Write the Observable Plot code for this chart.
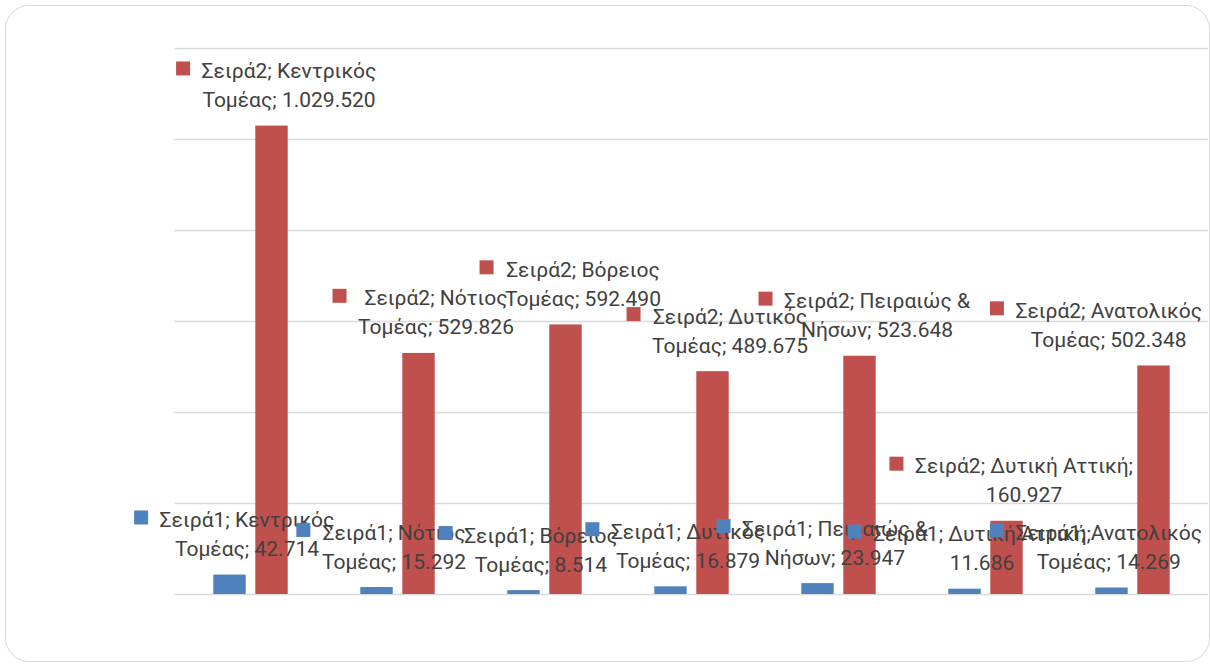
<!DOCTYPE html>
<html><head><meta charset="utf-8">
<script src="https://cdn.jsdelivr.net/npm/d3@7"></script>
<script src="https://cdn.jsdelivr.net/npm/@observablehq/plot@0.6"></script>
<style>
html,body{margin:0;padding:0;background:#fff;overflow:hidden}
#wrap{position:relative;width:1210px;height:667px}
#border{position:absolute;left:5px;top:4.5px;width:1204.5px;height:657px;border:1.5px solid #D9D9D9;border-radius:24px;pointer-events:none;box-sizing:border-box}
</style></head><body><div id="wrap"><div id="border"></div></div>
<script>
const categories = ["Κεντρικός Τομέας", "Νότιος Τομέας", "Βόρειος Τομέας", "Δυτικός Τομέας", "Πειραιώς & Νήσων", "Δυτική Αττική", "Ανατολικός Τομέας"];
const seriesNames = ["Σειρά1", "Σειρά2"];
const values1 = [42714, 15292, 8514, 16879, 23947, 11686, 14269];
const values2 = [1029520, 529826, 592490, 489675, 523648, 160927, 502348];
const line1Words = [2, 2, 2, 2, 3, 3, 2];
const yTicks = [0, 200000, 400000, 600000, 800000, 1000000, 1200000];
const colors = ["#4F81BD", "#C0504D"];

const fmt = d3.formatLocale({decimal: ",", thousands: ".", grouping: [3], currency: ["", "€"]}).format(",d");
const fs = 21, lh = 29;

function makeData(vals, s) {
  return categories.map((c, i) => {
    const words = `${s}; ${c}; ${fmt(vals[i])}`.split(" ");
    const k = line1Words[i];
    return {cat: c, value: vals[i], label: words.slice(0, k).join(" ") + "\n" + words.slice(k).join(" ")};
  });
}
const data1 = makeData(values1, seriesNames[0]);
const data2 = makeData(values2, seriesNames[1]);

const chart = Plot.plot({
  width: 1210, height: 667,
  marginTop: 48, marginBottom: 73, marginLeft: 174.5, marginRight: 2.3,
  x: {domain: categories, padding: 0, axis: null},
  y: {domain: [0, 1200000], axis: null},
  style: {background: "transparent", fontFamily: "Roboto, 'Open Sans', sans-serif"},
  marks: [
    Plot.ruleY(yTicks, {stroke: "#D9D9D9", strokeWidth: 1.3}),
    Plot.barY(data1, {x: "cat", y: "value", fill: colors[0], insetLeft: 36.3, insetRight: 78.3}),
    Plot.barY(data2, {x: "cat", y: "value", fill: colors[1], insetLeft: 78.3, insetRight: 36.3}),
    Plot.text(data1, {x: "cat", y: "value", text: "label", dx: -4, dy: -19, lineAnchor: "bottom", lineHeight: lh / fs, fontSize: fs, fill: "#404040"}),
    Plot.text(data2, {x: "cat", y: "value", text: "label", dx: 38, dy: -19, lineAnchor: "bottom", lineHeight: lh / fs, fontSize: fs, fill: "#404040"})
  ]
});
document.getElementById("wrap").prepend(chart);

// Excel-style legend keys beside each data label, and clamping inside the chart area
const sRect = chart.getBoundingClientRect();
chart.querySelectorAll('g[aria-label="text"]').forEach((g, si) => {
  g.querySelectorAll("text").forEach(t => {
    const r = t.getBoundingClientRect();
    const right = r.right - sRect.left;
    const shift = Math.max(0, right - 1202);
    if (shift) t.querySelectorAll("tspan").forEach(ts => ts.setAttribute("x", -shift));
    const w = t.getBBox().width;
    const rect = document.createElementNS("http://www.w3.org/2000/svg", "rect");
    rect.setAttribute("transform", t.getAttribute("transform"));
    rect.setAttribute("x", -w / 2 - shift - 11.5 - 14);
    rect.setAttribute("y", -lh - 16.6);
    rect.setAttribute("width", 14);
    rect.setAttribute("height", 14);
    rect.setAttribute("fill", colors[si]);
    g.insertBefore(rect, t);
  });
});
</script>
</body></html>
